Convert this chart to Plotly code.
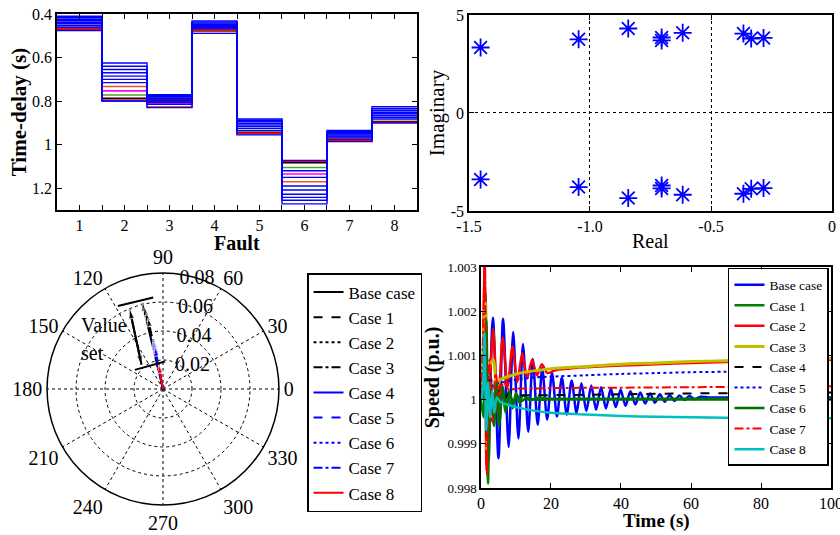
import plotly.graph_objects as go

FONT = "Liberation Serif"

# ---------------- Panel 1: time-delay per fault (stairs) ----------------
faults = [1, 2, 3, 4, 5, 6, 7, 8]
fault_edges = [0.5, 1.5, 2.5, 3.5, 4.5, 5.5, 6.5, 7.5, 8.5]
delay_blue = [
    [0.410, 0.625, 0.770, 0.432, 0.882, 1.272, 0.935, 0.826],
    [0.417, 0.640, 0.775, 0.437, 0.888, 1.255, 0.940, 0.835],
    [0.424, 0.655, 0.780, 0.442, 0.895, 1.242, 0.945, 0.843],
    [0.431, 0.670, 0.785, 0.447, 0.902, 1.228, 0.950, 0.851],
    [0.438, 0.685, 0.790, 0.452, 0.910, 1.208, 0.955, 0.858],
    [0.445, 0.700, 0.800, 0.457, 0.917, 1.190, 0.960, 0.866],
    [0.452, 0.715, 0.805, 0.462, 0.925, 1.150, 0.965, 0.874],
    [0.459, 0.800, 0.815, 0.467, 0.935, 1.120, 0.970, 0.882],
    [0.476, 0.800, 0.830, 0.489, 0.955, 1.072, 0.986, 0.900],
]
delay_colored = {
    "rgb(230,90,20)": [0.474, 0.733, 0.826, 0.480, 0.950, 1.170, 0.984, 0.900],
    "#ff00ff": [0.463, 0.753, 0.810, 0.472, 0.948, 1.135, 0.982, 0.898],
    "rgb(80,160,40)": [0.472, 0.772, 0.800, 0.478, 0.942, 1.105, 0.976, 0.893],
    "#000000": [0.466, 0.787, 0.795, 0.476, 0.945, 1.083, 0.978, 0.895],
    "#ff0000": [0.468, 0.795, 0.788, 0.474, 0.947, 1.076, 0.980, 0.897],
}

# ---------------- Panel 2: eigenvalues ----------------
eig_real = [-1.452, -1.047, -0.842, -0.704, -0.704, -0.617, -0.366, -0.334, -0.283,
            -1.452, -1.047, -0.842, -0.704, -0.704, -0.617, -0.366, -0.334, -0.283]
eig_imag = [3.34, 3.76, 4.31, 3.70, 3.85, 4.09, 4.05, 3.80, 3.83,
            -3.39, -3.78, -4.34, -3.70, -3.85, -4.17, -4.12, -3.87, -3.83]

# ---------------- Panel 3: compass plot ----------------
cases = ["Base case", "Case 1", "Case 2", "Case 3", "Case 4", "Case 5", "Case 6", "Case 7", "Case 8"]
compass_mag = [0.061, 0.058, 0.054, 0.050, 0.035, 0.033, 0.031, 0.029, 0.017]
compass_ang = [103.5, 103.0, 102.5, 102.0, 101.5, 101.5, 101.0, 101.0, 100.0]
compass_color = ["#000000"] * 4 + ["#0000ff"] * 4 + ["#ff0000"]
compass_dash = ["solid", "dash", "dot", "dashdot", "solid", "dash", "dot", "dashdot", "solid"]
bar_top_r, bar_top_t = [0.0652, 0.0635], [118.5, 96.1]
bar_bot_r, bar_bot_t = [0.0235, 0.0190], [145.8, 85.8]
span_r, span_t = [0.0596, 0.0223], [112.7, 131.6]
label_r, label_t, label_txt = [0.0707, 0.0613], [143.1, 157.3], ["Value", "set"]

# ---------------- Panel 4: speed time series ----------------
speed_t = {
    "Base case": [0, 0.9, 2.0, 3.4, 5.0, 6.3, 7.9, 9.2, 10.7, 12.0, 13.5, 14.8, 16.2, 17.5, 18.9,
                  20.3, 21.7, 23.1, 24.5, 25.9, 27.3, 28.7, 30.1, 31.5, 32.9, 34.3, 35.7, 37.1,
                  38.5, 39.9, 41.3, 42.7, 44.1, 45.5, 46.9, 48.3, 49.7, 51.1, 52.5, 53.9, 55.3,
                  56.7, 58.1, 59.5, 61.0, 62.5, 65, 70, 80, 90, 100],
    "Case 1": [0, 0.7, 1.3, 2.0, 2.7, 3.5, 4.3, 5.1, 6.0, 7, 8, 9, 10, 11, 12, 14, 16, 20, 30, 50, 100],
    "Case 2": [0, 0.5, 1.05, 1.6, 2.3, 3.5, 4.8, 6.2, 7.6, 9.0, 10.4, 11.8, 13.2, 14.6, 16.0, 17.4,
               19, 21, 25, 30, 40, 50, 60, 70, 80, 90, 100],
    "Case 3": [0, 0.6, 1.2, 1.8, 2.6, 3.6, 4.4, 5.5, 7, 10, 15, 20, 30, 40, 50, 60, 70, 80, 90, 100],
    "Case 4": [0, 1, 1.6, 2.4, 3.5, 5, 6.5, 8, 10, 15, 20, 30, 40, 60, 80, 100],
    "Case 5": [0, 1, 1.7, 2.5, 3.5, 5, 7, 10, 15, 20, 30, 40, 50, 60, 70, 80, 90, 100],
    "Case 6": [0, 0.8, 1.5, 2.2, 2.9, 3.7, 4.5, 5.3, 6.2, 7.2, 8.2, 9.2, 10.2, 11.5, 13, 15, 20, 40, 100],
    "Case 7": [0, 0.5, 1.1, 1.7, 2.4, 3.2, 4.2, 5.2, 6.5, 8, 10, 15, 20, 40, 60, 80, 100],
    "Case 8": [0, 0.5, 1.0, 1.5, 2.0, 2.6, 3.2, 3.8, 4.5, 5.5, 7, 10, 15, 20, 30, 40, 50, 60, 70, 80, 90, 100],
}
speed_y = {
    "Base case": [1.0, 1.0004, 0.9994, 1.00185, 0.99867, 1.00183, 0.99893, 1.00153, 0.99912, 1.00126,
                  0.99927, 1.00092, 0.99943, 1.00072, 0.99955, 1.00060, 0.99962, 1.00050, 0.99966,
                  1.00043, 0.99970, 1.00037, 0.99974, 1.00032, 0.99977, 1.00028, 0.99980, 1.00025,
                  0.99983, 1.00022, 0.99986, 1.00019, 0.99989, 1.00016, 0.99991, 1.00014, 0.99993,
                  1.00012, 0.99995, 1.00010, 0.99997, 1.00009, 0.99999, 1.00008, 1.00001, 1.00006,
                  1.00005, 1.00005, 1.00005, 1.00005, 1.00005],
    "Case 1": [1.0, 0.9996, 1.0024, 0.9981, 1.0006, 0.9996, 1.0004, 0.9994, 1.0003, 0.9997, 1.0002,
               0.9998, 1.00015, 0.99992, 1.0001, 0.99998, 1.00004, 1.00002, 1.00002, 1.00002, 1.00002],
    "Case 2": [1.0, 1.0008, 1.0031, 0.9984, 0.9998, 1.0016, 0.9997, 1.0014, 1.0003, 1.0012, 1.0004,
               1.00105, 1.00048, 1.0009, 1.00055, 1.0008, 1.0006, 1.00066, 1.0007, 1.00073, 1.00077,
               1.0008, 1.00083, 1.00085, 1.00087, 1.00089, 1.0009],
    "Case 3": [1.0, 1.0010, 1.0022, 0.9988, 1.0008, 1.0009, 1.0003, 1.00045, 1.0005, 1.00058, 1.00065,
               1.0007, 1.00075, 1.0008, 1.00083, 1.00086, 1.00088, 1.0009, 1.00092, 1.00093],
    "Case 4": [1.0, 1.0015, 0.9990, 1.0005, 0.9998, 1.0002, 1.0000, 1.00015, 1.0001, 1.0001, 1.0001,
               1.00011, 1.00012, 1.00014, 1.00015, 1.00016],
    "Case 5": [1.0, 1.0010, 0.9994, 1.0006, 1.0003, 1.00038, 1.0004, 1.00045, 1.0005, 1.00052, 1.00055,
               1.00058, 1.0006, 1.00062, 1.00063, 1.00064, 1.00065, 1.00066],
    "Case 6": [1.0, 1.0004, 1.0018, 0.9986, 1.0003, 0.9994, 1.0004, 0.9995, 1.0003, 0.9998, 1.00015,
               0.99992, 1.0001, 0.99996, 1.00004, 1.0, 1.0, 1.0, 1.0],
    "Case 7": [1.0, 1.0012, 1.0031, 0.9983, 1.0009, 0.9995, 1.0006, 1.0001, 1.0004, 1.00022, 1.00025,
               1.00025, 1.00026, 1.00027, 1.00028, 1.00029, 1.0003],
    "Case 8": [1.0, 1.0002, 1.0015, 0.9993, 1.0004, 0.9996, 1.0002, 0.9997, 1.00005, 0.99995, 0.9999,
               0.99983, 0.99975, 0.9997, 0.99966, 0.99963, 0.99961, 0.9996, 0.99959, 0.99958, 0.99958,
               0.99958],
}
speed_color = ["#0000ff", "#008000", "#ff0000", "#bfbf00", "#000000", "#0000ff", "#007000", "#ff0000", "#00bfbf"]
speed_dash = ["solid", "solid", "solid", "solid", "dash", "dot", "solid", "dashdot", "solid"]
speed_width = [2.5, 2.5, 2.5, 3, 2, 2, 2.5, 2, 2.5]

fig = go.Figure()

# ---- panel 1 traces (coloured first, blue on top)
for col, vals in delay_colored.items():
    fig.add_trace(go.Scatter(x=fault_edges, y=vals + [vals[-1]], mode="lines", line_shape="hv",
                             line=dict(color=col, width=1.6), showlegend=False,
                             xaxis="x", yaxis="y"))
for vals in delay_blue:
    fig.add_trace(go.Scatter(x=fault_edges, y=vals + [vals[-1]], mode="lines", line_shape="hv",
                             line=dict(color="#0000ff", width=1.4), showlegend=False,
                             xaxis="x", yaxis="y"))

# ---- panel 2
fig.add_trace(go.Scatter(x=eig_real, y=eig_imag, mode="markers",
                         marker=dict(symbol="asterisk-open", size=15, color="#0000ff",
                                     line=dict(color="#0000ff", width=1.8)),
                         showlegend=False, xaxis="x2", yaxis="y2"))

# ---- panel 3 (compass)
for name, m, a, c, d in zip(cases, compass_mag, compass_ang, compass_color, compass_dash):
    fig.add_trace(go.Scatterpolar(r=[0, m], theta=[a, a], mode="lines", name=name,
                                  line=dict(color=c, dash=d, width=2), legend="legend"))
for m, a, c in zip(compass_mag, compass_ang, compass_color):
    fig.add_trace(go.Scatterpolar(r=[0, m], theta=[a, a], mode="markers", showlegend=False,
                                  marker=dict(symbol="arrow", size=[0, 9], color=c,
                                              angleref="previous")))
for rr, tt in [(bar_top_r, bar_top_t), (bar_bot_r, bar_bot_t)]:
    fig.add_trace(go.Scatterpolar(r=rr, theta=tt, mode="lines", showlegend=False,
                                  line=dict(color="black", width=2)))
for rr, tt in [(span_r, span_t), (span_r[::-1], span_t[::-1])]:
    fig.add_trace(go.Scatterpolar(r=rr, theta=tt, mode="lines+markers", showlegend=False,
                                  line=dict(color="black", width=2),
                                  marker=dict(symbol="arrow", size=[0, 10], color="black",
                                              angleref="previous")))
fig.add_trace(go.Scatterpolar(r=label_r, theta=label_t, mode="text", text=label_txt,
                              textposition="middle right", showlegend=False,
                              textfont=dict(family=FONT, size=20, color="black")))

# ---- panel 4
for name, c, d, w in zip(cases, speed_color, speed_dash, speed_width):
    fig.add_trace(go.Scatter(x=speed_t[name], y=speed_y[name], mode="lines", name=name,
                             line=dict(color=c, dash=d, width=w, shape="spline", smoothing=0.8),
                             xaxis="x4", yaxis="y4", legend="legend2"))

axis_common = dict(showline=True, linecolor="black", linewidth=1.5, mirror="ticks",
                   ticks="inside", ticklen=5, tickcolor="black", zeroline=False,
                   showgrid=False, tickfont=dict(family=FONT, size=16, color="black"))

fig.update_layout(
    width=840, height=535, margin=dict(l=0, r=0, t=0, b=0, autoexpand=False),
    paper_bgcolor="white", plot_bgcolor="white",
    font=dict(family=FONT, color="black"),
    xaxis=dict(axis_common, domain=[0.0679, 0.4964], range=[0.5, 8.5], tickvals=faults,
               minor=dict(dtick=0.5, ticks="inside", ticklen=5, tickcolor="black"), anchor="y"),
    yaxis=dict(axis_common, domain=[0.6075, 0.9738], range=[1.3, 0.4],
               tickvals=[0.4, 0.6, 0.8, 1.0, 1.2], ticktext=["0.4", "0.6", "0.8", "1", "1.2"],
               title=dict(text="<b>Time-delay (s)</b>", font=dict(family=FONT, size=21), standoff=0), anchor="x"),
    xaxis2=dict(axis_common, domain=[0.5583, 0.9905], range=[-1.5, 0],
                tickvals=[-1.5, -1.0, -0.5, 0], ticktext=["-1.5", "-1.0", "-0.5", "0"],
                showgrid=True, gridcolor="black", griddash="dot", gridwidth=1, anchor="y2"),
    yaxis2=dict(axis_common, domain=[0.6056, 0.972], range=[-5, 5],
                tickvals=[-5, 0, 5], ticktext=["-5", "0", "5"],
                showgrid=True, gridcolor="black", griddash="dot", gridwidth=1,
                title=dict(text="Imaginary", font=dict(family=FONT, size=21), standoff=0), anchor="x2"),
    xaxis4=dict(axis_common, domain=[0.5726, 0.9893], range=[0, 100],
                tickvals=[0, 20, 40, 60, 80, 100], ticklabeloverflow="allow", anchor="y4"),
    yaxis4=dict(axis_common, domain=[0.0879, 0.5009], range=[0.998, 1.003],
                tickvals=[0.998, 0.999, 1.0, 1.001, 1.002, 1.003],
                ticktext=["0.998", "0.999", "1", "1.001", "1.002", "1.003"],
                tickfont=dict(family=FONT, size=13, color="black"),
                title=dict(text="<b>Speed (p.u.)</b>", font=dict(family=FONT, size=20), standoff=2), anchor="x4"),
    polar=dict(
        domain=dict(x=[0.0560, 0.3321], y=[0.0561, 0.4897]),
        bgcolor="white",
        radialaxis=dict(range=[0, 0.08], tickvals=[0.02, 0.04, 0.06, 0.08],
                        ticktext=["0.02", "0.04", "0.06", "0.08"], angle=87, tickangle=87,
                        showline=False, ticks="", gridcolor="black", griddash="dot", gridwidth=1,
                        tickfont=dict(family=FONT, size=20, color="black")),
        angularaxis=dict(tickmode="array", tickvals=list(range(0, 360, 30)),
                         ticktext=[str(v) for v in range(0, 360, 30)], direction="counterclockwise",
                         rotation=0, showline=True, linecolor="black", linewidth=1.5,
                         gridcolor="black", griddash="dot", gridwidth=1, ticks="",
                         tickfont=dict(family=FONT, size=20, color="black")),
    ),
    legend=dict(x=0.3655, y=0.4897, xanchor="left", yanchor="top", bgcolor="white",
                bordercolor="black", borderwidth=1.5, font=dict(family=FONT, size=17),
                itemwidth=30, tracegroupgap=0),
    legend2=dict(x=0.9869, y=0.4991, xanchor="right", yanchor="top", bgcolor="white",
                 bordercolor="black", borderwidth=1.5, font=dict(family=FONT, size=13.5),
                 itemwidth=30, tracegroupgap=0),
    annotations=[
        dict(text="<b>Fault</b>", xref="paper", yref="paper", x=0.282, y=0.5467, showarrow=False,
             xanchor="center", yanchor="middle", font=dict(family=FONT, size=20, color="black")),
        dict(text="Real", xref="paper", yref="paper", x=0.7744, y=0.5495, showarrow=False,
             xanchor="center", yanchor="middle", font=dict(family=FONT, size=20, color="black")),
        dict(text="<b>Time (s)</b>", xref="paper", yref="paper", x=0.781, y=0.0262, showarrow=False,
             xanchor="center", yanchor="middle", font=dict(family=FONT, size=19, color="black")),
    ],
)

fig.write_html("out.html", config={"displayModeBar": False},
               post_script="document.body.style.margin='0px';")
